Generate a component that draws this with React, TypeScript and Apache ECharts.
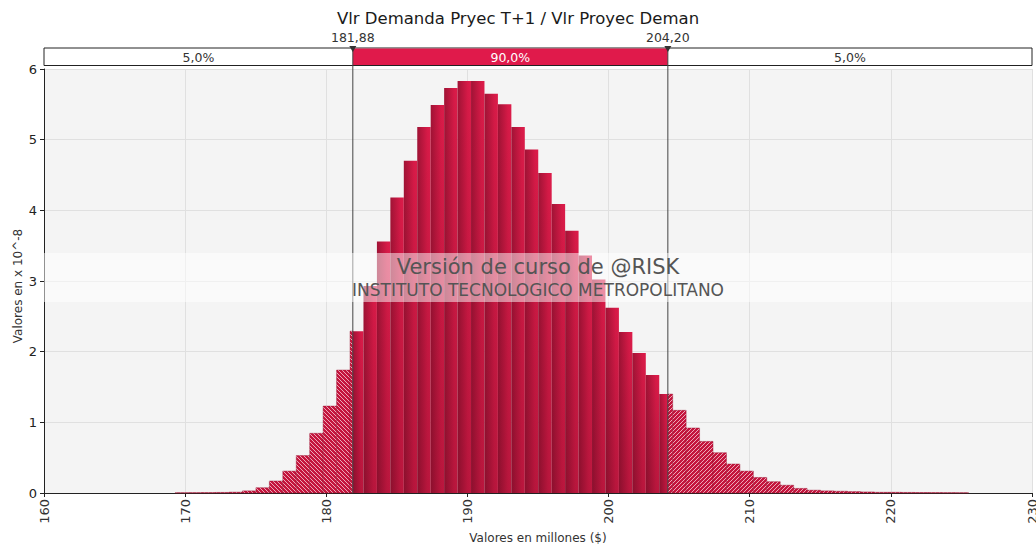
import React, { useEffect, useRef } from "react";
import * as echarts from "echarts";

const chartTitle = "Vlr Demanda Pryec T+1 / Vlr Proyec Deman";
const xAxisName = "Valores en millones ($)";
const yAxisName = "Valores en x 10^-8";
const xMin = 160;
const xMax = 230;
const xStep = 10;
const yMin = 0;
const yMax = 6;
const yStep = 1;

// histogram bins
const binStart = 169.3;
const binWidth = 0.9525;
const density = [
  0.004, 0.005, 0.006, 0.008, 0.012, 0.03, 0.075, 0.17, 0.31, 0.53, 0.845, 1.23, 1.74,
  2.29, 2.93, 3.56, 4.18, 4.7, 5.18, 5.49, 5.73, 5.83, 5.83, 5.65, 5.5, 5.18, 4.86, 4.53,
  4.09, 3.71, 3.36, 3.02, 2.62, 2.28, 1.98, 1.67, 1.4,
  1.17, 0.92, 0.73, 0.57, 0.41, 0.31, 0.22, 0.16, 0.11, 0.065, 0.04, 0.03, 0.025, 0.02,
  0.015, 0.01, 0.01, 0.008, 0.007, 0.006, 0.005, 0.004,
];

// percentile markers
const markerValues = [181.88, 204.2];
const markerLabels = ["181,88", "204,20"];
const bandLabels = ["5,0%", "90,0%", "5,0%"];

const watermarkLines = ["Versión de curso de @RISK", "INSTITUTO TECNOLOGICO METROPOLITANO"];

const FONT = "'DejaVu Sans', Verdana, sans-serif";

function hatch(dir: "L" | "R") {
  const d =
    dir === "L"
      ? "M-1,-1 L5,5 M-1,3 L1,5 M3,-1 L5,1"
      : "M-1,5 L5,-1 M-1,1 L1,-1 M3,5 L5,3";
  const svg = `<svg xmlns='http://www.w3.org/2000/svg' width='4' height='4'><rect width='4' height='4' fill='#c4153d'/><path d='${d}' stroke='#f2b8c6' stroke-width='0.9'/></svg>`;
  return {
    image: "data:image/svg+xml;charset=utf-8," + encodeURIComponent(svg),
    repeat: "repeat",
    imageWidth: 4,
    imageHeight: 4,
  } as any;
}

export default function App() {
  const ref = useRef<HTMLDivElement>(null);
  useEffect(() => {
    if (!ref.current) return;
    const chart = echarts.init(ref.current, undefined, { renderer: "svg" });
    const [p5, p95] = markerValues;
    const histData = density.map((v, i) => [
      binStart + i * binWidth,
      binStart + (i + 1) * binWidth,
      v,
    ]);
    const hatchL = hatch("L");
    const hatchR = hatch("R");

    const option: any = {
      animation: false,
      backgroundColor: "#ffffff",
      title: {
        text: chartTitle,
        left: "center",
        top: 5,
        textStyle: { fontFamily: FONT, fontSize: 16.5, fontWeight: "normal", color: "#1a1a1a" },
      },
      grid: {
        left: 44,
        right: 4,
        top: 69,
        bottom: 53,
        containLabel: false,
        outerBoundsMode: "none",
        show: true,
        backgroundColor: "#f4f4f4",
        borderWidth: 0,
      },
      xAxis: {
        type: "value",
        min: xMin,
        max: xMax,
        interval: xStep,
        name: xAxisName,
        nameLocation: "middle",
        nameGap: 36,
        nameTextStyle: { fontFamily: FONT, fontSize: 12, color: "#333" },
        axisLine: { show: true, lineStyle: { color: "#222", width: 1 } },
        axisTick: { show: true, length: 4, lineStyle: { color: "#222" } },
        axisLabel: { rotate: 90, margin: 6, fontFamily: FONT, fontSize: 13, color: "#333" },
        splitLine: { show: true, lineStyle: { color: "#e0e0e0" } },
      },
      yAxis: {
        type: "value",
        min: yMin,
        max: yMax,
        interval: yStep,
        axisLine: { show: true, lineStyle: { color: "#222", width: 1 } },
        axisTick: { show: true, length: 4, lineStyle: { color: "#222" } },
        axisLabel: { margin: 7, fontFamily: FONT, fontSize: 13, color: "#222" },
        splitLine: { show: true, lineStyle: { color: "#e0e0e0" } },
      },
      series: [
        {
          type: "custom",
          z: 2,
          data: histData,
          encode: { x: [0, 1], y: 2 },
          renderItem: (params: any, api: any) => {
            const s = api.value(0);
            const e = api.value(1);
            const v = api.value(2);
            const yb = api.coord([s, 0])[1];
            const yt = api.coord([s, v])[1];
            const segs: [number, number, string][] = [
              [s, Math.min(e, p5), "L"],
              [Math.max(s, p5), Math.min(e, p95), "M"],
              [Math.max(s, p95), e, "R"],
            ];
            const children: any[] = [];
            segs.forEach(([a, b, kind]) => {
              if (b <= a) return;
              const xa = api.coord([a, 0])[0];
              const xb = api.coord([b, 0])[0];
              const shape = { x: xa, y: yt, width: xb - xa, height: yb - yt };
              if (kind === "M") {
                children.push({
                  type: "rect",
                  shape,
                  style: {
                    fill: new echarts.graphic.LinearGradient(0, 0, 1, 0, [
                      { offset: 0, color: "#a01335" },
                      { offset: 0.75, color: "#d61a47" },
                      { offset: 1, color: "#dc1c4a" },
                    ]),
                  },
                });
                children.push({
                  type: "rect",
                  shape,
                  style: {
                    fill: new echarts.graphic.LinearGradient(0, 0, 0, 1, [
                      { offset: 0, color: "rgba(0,0,0,0)" },
                      { offset: 1, color: "rgba(40,0,10,0.18)" },
                    ]),
                  },
                });
              } else {
                children.push({
                  type: "rect",
                  shape,
                  style: { fill: kind === "L" ? hatchL : hatchR, stroke: "rgba(150,15,45,0.7)", lineWidth: 0.6 },
                });
              }
            });
            return { type: "group", children };
          },
        },
        {
          type: "custom",
          z: 10,
          clip: false,
          data: [[p5, p95]],
          encode: { x: [0, 1] },
          renderItem: (params: any, api: any) => {
            const cs = params.coordSys;
            const x5 = api.coord([api.value(0), 0])[0];
            const x95 = api.coord([api.value(1), 0])[0];
            const top = cs.y - 21;
            const h = 17.5;
            const left = cs.x;
            const right = cs.x + cs.width;
            const bottom = cs.y + cs.height;
            const xs = [x5, x95];
            const children: any[] = [
              {
                type: "rect",
                shape: { x: left, y: top, width: right - left, height: h },
                style: { fill: "#ffffff", stroke: "#222", lineWidth: 1 },
              },
              {
                type: "rect",
                shape: { x: x5, y: top + 0.5, width: x95 - x5, height: h - 1 },
                style: { fill: "#e01a4b" },
              },
              {
                type: "text",
                style: {
                  text: bandLabels[0], x: (left + x5) / 2, y: top + h / 2 + 0.5,
                  align: "center", verticalAlign: "middle",
                  font: `12.5px ${FONT}`, fill: "#333",
                },
              },
              {
                type: "text",
                style: {
                  text: bandLabels[1], x: (x5 + x95) / 2, y: top + h / 2 + 0.5,
                  align: "center", verticalAlign: "middle",
                  font: `12.5px ${FONT}`, fill: "#ffffff",
                },
              },
              {
                type: "text",
                style: {
                  text: bandLabels[2], x: (x95 + right) / 2, y: top + h / 2 + 0.5,
                  align: "center", verticalAlign: "middle",
                  font: `12.5px ${FONT}`, fill: "#333",
                },
              },
            ];
            xs.forEach((x, i) => {
              children.push({
                type: "line",
                shape: { x1: x, y1: top, x2: x, y2: bottom },
                style: { stroke: "#444", lineWidth: 1 },
              });
              children.push({
                type: "polygon",
                shape: { points: [[x - 3.5, top - 2], [x + 3.5, top - 2], [x, top + 4]] },
                style: { fill: "#333" },
              });
              children.push({
                type: "text",
                style: {
                  text: markerLabels[i], x, y: top - 11,
                  align: "center", verticalAlign: "middle",
                  font: `12.5px ${FONT}`, fill: "#333",
                },
              });
            });
            return { type: "group", children };
          },
        },
      ],
      graphic: [
        {
          type: "text",
          x: 18,
          y: 286,
          rotation: Math.PI / 2,
          style: {
            text: yAxisName, font: `12px ${FONT}`, fill: "#333",
            align: "center", verticalAlign: "middle",
          },
        },
        {
          type: "rect",
          z: 100,
          left: 44,
          top: 253,
          shape: { width: 988, height: 49 },
          style: { fill: "rgba(255,255,255,0.5)" },
        },
        {
          type: "text",
          z: 101,
          x: 538,
          y: 267,
          style: {
            text: watermarkLines[0], font: `21px ${FONT}`, fill: "#555",
            align: "center", verticalAlign: "middle",
          },
        },
        {
          type: "text",
          z: 101,
          x: 538,
          y: 290,
          style: {
            text: watermarkLines[1], font: `17px ${FONT}`, fill: "#555",
            align: "center", verticalAlign: "middle",
          },
        },
      ],
    };
    chart.setOption(option);
    return () => chart.dispose();
  }, []);
  return (
    <div
      ref={ref}
      style={{ position: "fixed", left: 0, top: 0, width: 1036, height: 546 }}
    />
  );
}
